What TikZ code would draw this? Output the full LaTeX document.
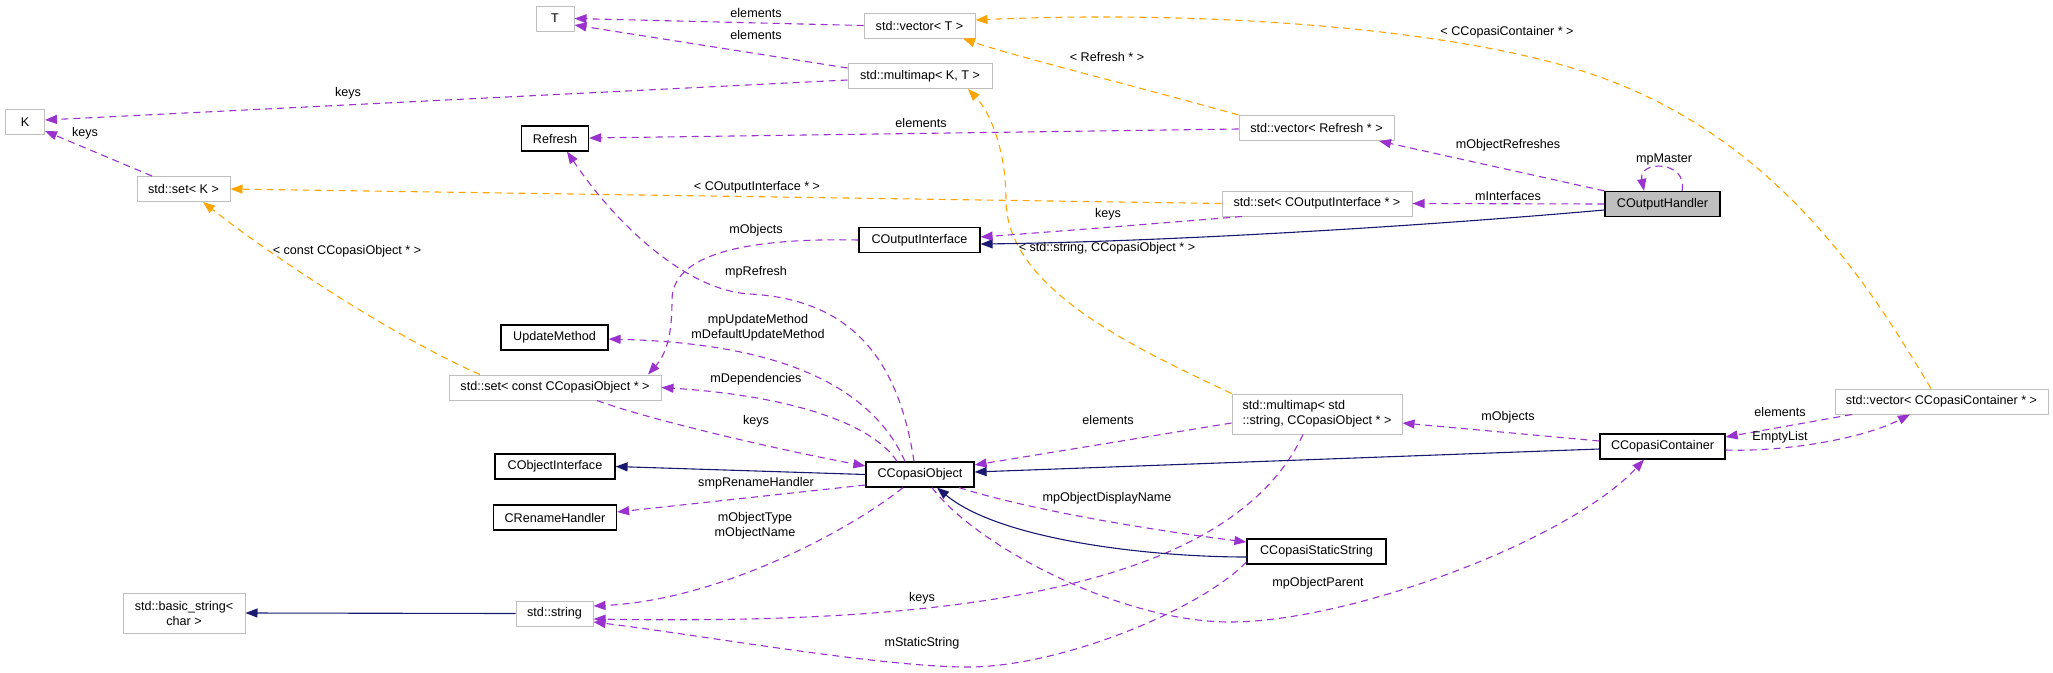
\documentclass[tikz,border=0pt]{standalone}
\usepackage{fontspec}
\setmainfont{Liberation Sans}
\usetikzlibrary{arrows.meta}
\definecolor{pur}{HTML}{9A32CD}
\definecolor{org}{HTML}{FFA500}
\definecolor{nav}{HTML}{191970}
\definecolor{gbd}{HTML}{BFBFBF}
\newcommand{\dfont}{\fontsize{12.6}{15}\selectfont}
\begin{document}
\begin{tikzpicture}[x=1pt,y=-1pt,
  box/.style={draw=black, line width=1.2pt, minimum height=25pt, inner sep=0pt, font=\dfont, fill=white},
  gbox/.style={box, draw=gbd, line width=1pt},
  usage/.style={draw=pur, line width=1.1pt, dash pattern=on 7pt off 5pt, -{Triangle[length=12pt,width=9pt]}},
  tmpl/.style={draw=org, line width=1.1pt, dash pattern=on 7pt off 5pt, -{Triangle[length=12pt,width=9pt]}},
  inh/.style={draw=nav, line width=1.1pt, -{Triangle[length=12pt,width=9pt]}},
  lbl/.style={font=\dfont, inner sep=0pt, align=center}
]
\useasboundingbox (0,0) rectangle (2053,672);

% nodes
\node[gbox, minimum width=38] (T) at (555,18.5) {T};
\node[gbox, minimum width=39] (K) at (25,122) {K};
\node[gbox, minimum width=111] (vecT) at (919.5,25.5) {std::vector< T >};
\node[gbox, minimum width=144] (mmKT) at (920,76) {std::multimap< K, T >};
\node[box, minimum width=67] (Refresh) at (555,138.5) {Refresh};
\node[gbox, minimum width=93] (setK) at (183.5,189) {std::set< K >};
\node[gbox, minimum width=155] (vecRef) at (1316.5,128) {std::vector< Refresh * >};
\node[gbox, minimum width=190] (setCOI) at (1317,203.5) {std::set< COutputInterface * >};
\node[box, minimum width=115, fill=gbd] (COH) at (1662.5,204) {COutputHandler};
\node[box, minimum width=121] (COI) at (919.5,240) {COutputInterface};
\node[box, minimum width=107] (UM) at (554.5,337.5) {UpdateMethod};
\node[gbox, minimum width=212] (setCCO) at (555,387.5) {std::set< const CCopasiObject * >};
\node[box, minimum width=120] (CObjI) at (555,466.5) {CObjectInterface};
\node[box, minimum width=123] (CRH) at (555,517.5) {CRenameHandler};
\node[gbox, minimum width=122, minimum height=40, align=center] (bstr) at (184,613) {std::basic\_string<\\char >};
\node[gbox, minimum width=77] (str) at (554.5,613.5) {std::string};
\node[box, minimum width=108] (CCO) at (920,474.5) {CCopasiObject};
\node[gbox, minimum width=170, minimum height=40, align=left] (mmSC) at (1317,414) {std::multimap< std\\::string, CCopasiObject * >};
\node[box, minimum width=139] (CCSS) at (1316.5,551.5) {CCopasiStaticString};
\node[box, minimum width=125] (CCC) at (1662.5,446.5) {CCopasiContainer};
\node[gbox, minimum width=213] (vecCC) at (1941.5,401.5) {std::vector< CCopasiContainer * >};

% helper coordinates
\coordinate (k7) at (1600,77);
\coordinate (k10) at (1006,200);
\coordinate (k16) at (672,300);
\coordinate (k17) at (750,294);
\coordinate (k31) at (968,667);
\coordinate (k32) at (1230,622);

% edges
\draw[usage] (vecT.west) -- (T.east);
\draw[usage] (mmKT.west |- 0,68) -- (T.east |- 0,25);
\draw[usage] (mmKT.west |- 0,80) -- (K.east |- 0,120);
\draw[usage] (152,0 |- setK.north) -- (K.east |- 0,131);
\draw[usage] (vecRef.west |- 0,129) -- (Refresh.east |- 0,138);
\draw[tmpl] (vecRef.north west) .. controls (1150,90) and (1010,55) .. (963,0 |- vecT.south);
\draw[tmpl] (1931,0 |- vecCC.north) .. controls (1879,303) and (1788,144) .. (k7) .. controls (1459,27) and (1200,10) .. (vecT.east |- 0,20);
\draw[tmpl] (setCOI.west) -- (setK.east);
\draw[tmpl] (480,0 |- setCCO.north) .. controls (398,339) and (274,258) .. (203,0 |- setK.south);
\draw[tmpl] (mmSC.north west) .. controls (1140,350) and (1006,290) .. (k10) .. controls (1006,150) and (990,112) .. (968,0 |- mmKT.south);
\draw[usage] (COH.north west) -- (1379,0 |- vecRef.south);
\draw[usage] (COH.west) -- (setCOI.east);
\draw[usage] (1682,0 |- COH.north) .. controls (1688,160) and (1638,160) .. (1644,0 |- COH.north);
\draw[inh] (COH.west |- 0,210) .. controls (1400,228) and (1150,242) .. (COI.east |- 0,244);
\draw[usage] (1242,0 |- setCOI.south) .. controls (1150,224) and (1050,232) .. (COI.east |- 0,237);
\draw[usage] (COI.west) .. controls (760,238) and (672,250) .. (k16) .. controls (672,330) and (668,352) .. (648,0 |- setCCO.north);
\draw[usage] (914,0 |- CCO.north) .. controls (900,370) and (860,300) .. (k17) .. controls (690,291) and (620,230) .. (567,0 |- Refresh.south);
\draw[usage] (905,0 |- CCO.north) .. controls (860,360) and (720,342) .. (UM.east |- 0,339);
\draw[usage] (897,0 |- CCO.north) .. controls (870,420) and (780,395) .. (setCCO.east);
\draw[usage] (597,0 |- setCCO.south) .. controls (650,420) and (780,450) .. (CCO.west |- 0,466);
\draw[inh] (CCO.west) -- (CObjI.east);
\draw[usage] (CCO.west |- 0,485) -- (CRH.east |- 0,512);
\draw[usage] (903,0 |- CCO.south) .. controls (850,530) and (720,600) .. (str.east |- 0,606);
\draw[inh] (str.west) -- (bstr.east);
\draw[usage] (mmSC.west |- 0,423) -- (CCO.east |- 0,465);
\draw[usage] (1303,0 |- mmSC.south) .. controls (1230,590) and (950,625) .. (str.east |- 0,619);
\draw[inh] (CCC.west |- 0,449) -- (CCO.east |- 0,472);
\draw[usage] (CCC.west |- 0,441) -- (mmSC.east |- 0,423);
\draw[inh] (CCSS.west |- 0,557) .. controls (1150,557) and (1000,540) .. (937,0 |- CCO.south);
\draw[usage] (959,0 |- CCO.south) .. controls (1030,510) and (1150,530) .. (CCSS.west |- 0,542);
\draw[usage] (CCSS.west |- 0,562) .. controls (1200,610) and (1060,667) .. (k31) .. controls (880,667) and (700,635) .. (str.east |- 0,622);
\draw[usage] (932,0 |- CCO.south) .. controls (975,545) and (1120,622) .. (k32) .. controls (1350,622) and (1570,540) .. (1644,0 |- CCC.south);
\draw[usage] (1852,0 |- vecCC.south) -- (CCC.east |- 0,437);
\draw[usage] (CCC.east |- 0,450) .. controls (1780,452) and (1860,440) .. (1910,0 |- vecCC.south);

% labels
\node[lbl] (l1) at (756,13) {elements};
\node[lbl] (l2) at (756,35) {elements};
\node[lbl] (l3) at (348,93) {keys};
\node[lbl] (l4) at (85,133) {keys};
\node[lbl] (l5) at (921,123) {elements};
\node[lbl] (l6) at (1107,57) {< Refresh * >};
\node[lbl] (l7) at (1507,32) {< CCopasiContainer * >};
\node[lbl] (l8) at (757,187) {< COutputInterface * >};
\node[lbl] (l9) at (347,251) {< const CCopasiObject * >};
\node[lbl] (l10) at (1107,248) {< std::string, CCopasiObject * >};
\node[lbl] (l11) at (1508,145) {mObjectRefreshes};
\node[lbl] (l12) at (1508,196) {mInterfaces};
\node[lbl] (l13) at (1664,159) {mpMaster};
\node[lbl] (l15) at (1108,214) {keys};
\node[lbl] (l16) at (756,230) {mObjects};
\node[lbl] (l17) at (756,272) {mpRefresh};
\node[lbl] (l18) at (758,327.5) {mpUpdateMethod\\mDefaultUpdateMethod};
\node[lbl] (l19) at (756,379) {mDependencies};
\node[lbl] (l20) at (756,421) {keys};
\node[lbl] (l22) at (756,483) {smpRenameHandler};
\node[lbl] (l23) at (755,525.5) {mObjectType\\mObjectName};
\node[lbl] (l25) at (1108,420) {elements};
\node[lbl] (l26) at (922,598) {keys};
\node[lbl] (l28) at (1508,417) {mObjects};
\node[lbl] (l30) at (1107,498) {mpObjectDisplayName};
\node[lbl] (l31) at (922,643) {mStaticString};
\node[lbl] (l32) at (1318,583) {mpObjectParent};
\node[lbl] (l33) at (1780,412) {elements};
\node[lbl] (l34) at (1780,437) {EmptyList};
\end{tikzpicture}
\end{document}
